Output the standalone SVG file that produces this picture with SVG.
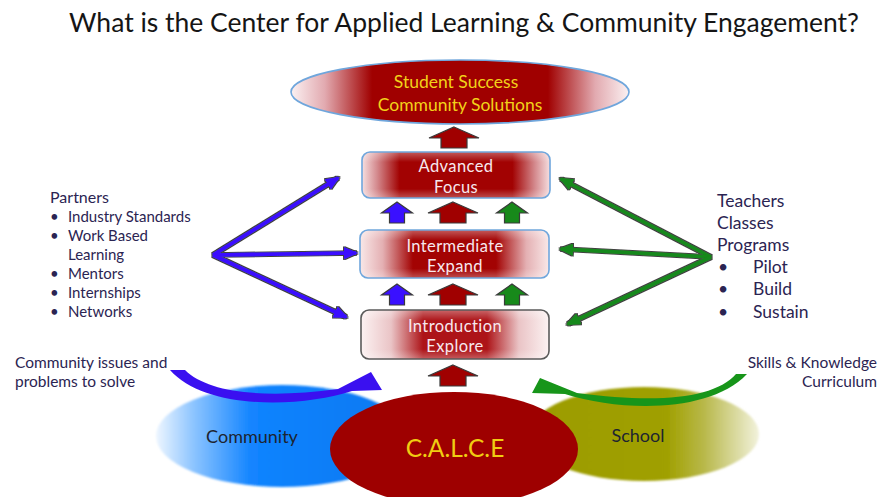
<svg xmlns="http://www.w3.org/2000/svg" width="882" height="497" viewBox="0 0 882 497">
  <defs>
    <style>
      text { font-family: Lato, "Open Sans", "Liberation Sans", sans-serif; }
      .title { font-size: 26.5px; fill: #151515; }
      .goal { font-size: 17.5px; fill: #f2d21a; text-anchor: middle; }
      .stage { font-size: 16.5px; letter-spacing: 0.4px; fill: #f7e8ee; text-anchor: middle; }
      .list { font-size: 15px; fill: #2b2452; }
      .rlist { font-size: 17.5px; fill: #2b2452; }
      .note { font-size: 15.5px; fill: #2b2452; }
      .base { font-size: 18px; fill: #1d2430; text-anchor: middle; }
      .calce { font-size: 24.5px; fill: #f0cc12; text-anchor: middle; }
      .blk { stroke: #3a3a3a; stroke-width: 1.2; stroke-linejoin: miter; }
      .box-blue { stroke: #6fa6dc; stroke-width: 1.6; }
      .ray-b { stroke: #3a10ff; stroke-width: 3.6; fill: none; marker-end: url(#headB); }
      .ray-g { stroke: #17891a; stroke-width: 3.6; fill: none; marker-end: url(#headG); }
    </style>

    <!-- stage fills: red core fading out to pale pink at the sides -->
    <linearGradient id="goalFill" x1="0" y1="0" x2="1" y2="0">
      <stop offset="0" stop-color="#fbf1f2"/>
      <stop offset="0.1" stop-color="#e2aab0"/>
      <stop offset="0.24" stop-color="#a00000"/>
      <stop offset="0.76" stop-color="#a00000"/>
      <stop offset="0.9" stop-color="#e2aab0"/>
      <stop offset="1" stop-color="#fbf1f2"/>
    </linearGradient>
    <linearGradient id="advFill" x1="0" y1="0" x2="1" y2="0">
      <stop offset="0" stop-color="#f6dfe0"/>
      <stop offset="0.08" stop-color="#d48a8e"/>
      <stop offset="0.2" stop-color="#a20202"/>
      <stop offset="0.8" stop-color="#a20202"/>
      <stop offset="0.92" stop-color="#d48a8e"/>
      <stop offset="1" stop-color="#f6dfe0"/>
    </linearGradient>
    <linearGradient id="midFill" x1="0" y1="0" x2="1" y2="0">
      <stop offset="0" stop-color="#f9e8e8"/>
      <stop offset="0.12" stop-color="#e4b0b3"/>
      <stop offset="0.28" stop-color="#a30303"/>
      <stop offset="0.72" stop-color="#a30303"/>
      <stop offset="0.88" stop-color="#e4b0b3"/>
      <stop offset="1" stop-color="#f9e8e8"/>
    </linearGradient>
    <linearGradient id="introFill" x1="0" y1="0" x2="1" y2="0">
      <stop offset="0" stop-color="#fcf2f2"/>
      <stop offset="0.16" stop-color="#eac4c6"/>
      <stop offset="0.33" stop-color="#ad1418"/>
      <stop offset="0.67" stop-color="#ad1418"/>
      <stop offset="0.84" stop-color="#eac4c6"/>
      <stop offset="1" stop-color="#fcf2f2"/>
    </linearGradient>
    <!-- pale sheen at the top and bottom edges of the stage boxes -->
    <linearGradient id="sheen" x1="0" y1="0" x2="0" y2="1">
      <stop offset="0" stop-color="#ffffff" stop-opacity="0.35"/>
      <stop offset="0.22" stop-color="#ffffff" stop-opacity="0"/>
      <stop offset="0.8" stop-color="#ffffff" stop-opacity="0"/>
      <stop offset="1" stop-color="#ffffff" stop-opacity="0.3"/>
    </linearGradient>
    <linearGradient id="commFill" x1="0" y1="0" x2="1" y2="0">
      <stop offset="0" stop-color="#eef6ff"/>
      <stop offset="0.15" stop-color="#8cc4ff"/>
      <stop offset="0.38" stop-color="#1284ff"/>
      <stop offset="1" stop-color="#0a78f0"/>
    </linearGradient>
    <linearGradient id="schoolFill" x1="0" y1="0" x2="1" y2="0">
      <stop offset="0" stop-color="#9c9c00"/>
      <stop offset="0.6" stop-color="#a0a000"/>
      <stop offset="0.76" stop-color="#b8b84a"/>
      <stop offset="1" stop-color="#f2f2dc"/>
    </linearGradient>

    <!-- soft edge for the base ellipses -->
    <filter id="soft" x="-5%" y="-5%" width="110%" height="110%">
      <feGaussianBlur stdDeviation="1.2"/>
    </filter>
    <!-- dark rim drawn round the straight arrows -->
    <filter id="rim" x="-5%" y="-10%" width="110%" height="120%">
      <feMorphology in="SourceAlpha" operator="dilate" radius="1.1" result="grow"/>
      <feGaussianBlur in="grow" stdDeviation="0.6" result="blur"/>
      <feFlood flood-color="#1c1c1c" flood-opacity="0.85"/>
      <feComposite in2="blur" operator="in" result="edge"/>
      <feMerge><feMergeNode in="edge"/><feMergeNode in="SourceGraphic"/></feMerge>
    </filter>

    <marker id="headB" markerUnits="userSpaceOnUse" viewBox="0 0 14 12" refX="12" refY="6" markerWidth="14" markerHeight="12" orient="auto">
      <path d="M0,0 L14,6 L0,12 Z" fill="#3a10ff"/>
    </marker>
    <marker id="headG" markerUnits="userSpaceOnUse" viewBox="0 0 14 12" refX="12" refY="6" markerWidth="14" markerHeight="12" orient="auto">
      <path d="M0,0 L14,6 L0,12 Z" fill="#17891a"/>
    </marker>

    <!-- upward block arrows, tip at the origin -->
    <path id="bigUp" d="M0,0 L25,11 L13,11 L13,21 L-13,21 L-13,11 L-25,11 Z"/>
    <path id="smallUp" d="M0,0 L15.5,11 L7.5,11 L7.5,21 L-7.5,21 L-7.5,11 L-15.5,11 Z"/>
  </defs>

  <rect width="882" height="497" fill="#ffffff"/>

  <text class="title" x="464" y="32" text-anchor="middle">What is the Center for Applied Learning &amp; Community Engagement?</text>

  <!-- base ellipses -->
  <g id="community">
    <ellipse cx="282" cy="436" rx="126" ry="51" fill="url(#commFill)" filter="url(#soft)"/>
    <text class="base" x="252" y="443">Community</text>
  </g>
  <g id="school">
    <ellipse cx="644" cy="434" rx="115" ry="47" fill="url(#schoolFill)" filter="url(#soft)"/>
    <text class="base" x="638" y="442">School</text>
  </g>
  <g id="calce">
    <ellipse cx="454" cy="449" rx="124" ry="57" fill="#9e0000"/>
    <text class="calce" x="455" y="457">C.A.L.C.E</text>
  </g>

  <!-- stages -->
  <g id="outcome">
    <ellipse cx="460" cy="92" rx="169" ry="32" fill="url(#goalFill)" class="box-blue"/>
    <text class="goal" x="456" y="88">Student Success</text>
    <text class="goal" x="460" y="111">Community Solutions</text>
  </g>
  <g id="advanced">
    <rect x="362" y="152" width="188" height="46" rx="8" fill="url(#advFill)"/>
    <rect x="362" y="152" width="188" height="46" rx="8" fill="url(#sheen)" class="box-blue"/>
    <text class="stage" x="456" y="172">Advanced</text>
    <text class="stage" x="456" y="193">Focus</text>
  </g>
  <g id="intermediate">
    <rect x="360" y="230" width="189" height="48" rx="8" fill="url(#midFill)"/>
    <rect x="360" y="230" width="189" height="48" rx="8" fill="url(#sheen)" class="box-blue"/>
    <text class="stage" x="455" y="252">Intermediate</text>
    <text class="stage" x="455" y="272">Expand</text>
  </g>
  <g id="introduction">
    <rect x="361" y="310" width="188" height="49" rx="8" fill="url(#introFill)"/>
    <rect x="361" y="310" width="188" height="49" rx="8" fill="url(#sheen)" stroke="#5a5a5a" stroke-width="1.6"/>
    <text class="stage" x="455" y="332">Introduction</text>
    <text class="stage" x="455" y="352">Explore</text>
  </g>

  <!-- side inputs -->
  <g id="partners">
    <text class="rlist" x="50" y="203" style="font-size:16px">Partners</text>
    <g class="list">
      <text x="50" y="222">•</text><text x="68" y="222">Industry Standards</text>
      <text x="50" y="241">•</text><text x="68" y="241">Work Based</text>
      <text x="68" y="260">Learning</text>
      <text x="50" y="279">•</text><text x="68" y="279">Mentors</text>
      <text x="50" y="298">•</text><text x="68" y="298">Internships</text>
      <text x="50" y="317">•</text><text x="68" y="317">Networks</text>
    </g>
  </g>
  <g id="school-side">
    <g class="rlist">
      <text x="717" y="207">Teachers</text>
      <text x="717" y="229">Classes</text>
      <text x="717" y="251">Programs</text>
      <text x="718" y="273">•</text><text x="753" y="273">Pilot</text>
      <text x="718" y="295">•</text><text x="753" y="295">Build</text>
      <text x="718" y="318">•</text><text x="753" y="318">Sustain</text>
    </g>
  </g>
  <g id="community-note">
    <text class="note" x="15" y="368">Community issues and</text>
    <text class="note" x="15" y="387">problems to solve</text>
  </g>
  <g id="school-note">
    <text class="note" x="877" y="368" text-anchor="end">Skills &amp; Knowledge</text>
    <text class="note" x="877" y="387" text-anchor="end">Curriculum</text>
  </g>

  <g id="connectors">
    <!-- partners fan out to each stage -->
    <g filter="url(#rim)">
      <line class="ray-b" x1="213" y1="255" x2="338" y2="178"/>
      <line class="ray-b" x1="213" y1="255" x2="356" y2="253"/>
      <line class="ray-b" x1="213" y1="255" x2="346" y2="317"/>
    </g>
    <!-- school side fans out to each stage -->
    <g filter="url(#rim)">
      <line class="ray-g" x1="711" y1="257" x2="561" y2="179"/>
      <line class="ray-g" x1="711" y1="257" x2="561" y2="249"/>
      <line class="ray-g" x1="711" y1="257" x2="568" y2="324"/>
    </g>

    <!-- upward progression -->
    <use href="#bigUp" x="454" y="127" fill="#a00000" class="blk"/>
    <use href="#smallUp" x="397" y="202" fill="#3a10ff" class="blk"/>
    <use href="#bigUp" x="453" y="202" fill="#a00000" class="blk"/>
    <use href="#smallUp" x="512" y="202" fill="#17891a" class="blk"/>
    <use href="#smallUp" x="397" y="284" fill="#3a10ff" class="blk"/>
    <use href="#bigUp" x="453" y="284" fill="#a00000" class="blk"/>
    <use href="#smallUp" x="512" y="284" fill="#17891a" class="blk"/>
    <use href="#bigUp" x="453" y="365" fill="#a00000" class="blk"/>

    <!-- curved feeds into C.A.L.C.E -->
    <path d="M170,370 L185,370 C208,393 265,399 338,389 L371,372 L382,390 L352,391 C300,408 205,410 170,370 Z" fill="#3a10f0"/>
    <path d="M747,374 L736,374 C715,398 660,404 577,393 L540,378 L532,393 L565,394 C622,412 710,413 747,374 Z" fill="#17951a"/>
  </g>
</svg>
